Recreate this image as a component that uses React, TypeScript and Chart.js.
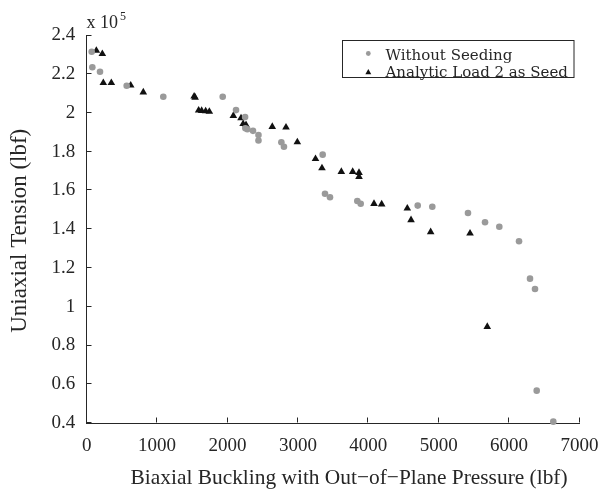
import React, { useEffect, useRef } from "react";
import { Chart, registerables } from "chart.js";

Chart.register(...registerables);

const xTicks = [0, 1000, 2000, 3000, 4000, 5000, 6000, 7000];
const yTicks = [0.4, 0.6, 0.8, 1.0, 1.2, 1.4, 1.6, 1.8, 2.0, 2.2, 2.4];
const seriesNames = ["Without Seeding", "Analytic Load 2 as Seed"];
const xTitle = "Biaxial Buckling with Out\u2212of\u2212Plane Pressure (lbf)";
const yTitle = "Uniaxial Tension (lbf)";

// Without Seeding (y in units of 1e5 lbf)
const noSeedX = [71, 80, 189, 568, 1088, 1932, 2121, 2250, 2254, 2282, 2362, 2440, 2440, 2765, 2802, 3352, 3385, 3456, 3844, 3892, 4702, 4909, 5416, 5658, 5861, 6141, 6297, 6368, 6392, 6628];
const noSeedY = [2.316, 2.236, 2.213, 2.141, 2.084, 2.084, 2.015, 1.979, 1.921, 1.916, 1.908, 1.886, 1.858, 1.849, 1.826, 1.785, 1.583, 1.565, 1.546, 1.532, 1.522, 1.516, 1.484, 1.436, 1.413, 1.338, 1.145, 1.092, 0.567, 0.407];

// Analytic Load 2 as Seed
const seedX = [137, 222, 236, 350, 625, 804, 1526, 1540, 1590, 1633, 1690, 1742, 2083, 2192, 2222, 2263, 2636, 2831, 2992, 3250, 3342, 3617, 3778, 3868, 3868, 4081, 4190, 4554, 4607, 4886, 5445, 5690];
const seedY = [2.322, 2.305, 2.156, 2.156, 2.143, 2.107, 2.086, 2.080, 2.014, 2.012, 2.010, 2.007, 1.986, 1.974, 1.944, 1.938, 1.929, 1.926, 1.850, 1.763, 1.716, 1.697, 1.697, 1.692, 1.671, 1.532, 1.529, 1.508, 1.448, 1.386, 1.379, 0.897];

const SERIF = "'Liberation Serif', 'Times New Roman', serif";
const LEGEND_FONT = "'DejaVu Serif', serif";
const INK = "#262626";
const GRAY = "#9a9a9a";
const BLACK = "#111111";

// plot frame in canvas pixels
const AREA = { left: 86.7, right: 579.5, top: 35.5, bottom: 423 };

export default function App() {
  const ref = useRef<HTMLCanvasElement>(null);

  useEffect(() => {
    document.body.style.margin = "0";
    const canvas = ref.current;
    if (!canvas) return;

    const frame = {
      id: "frame",
      afterLayout(chart: any) {
        const ca = chart.chartArea;
        ca.left = AREA.left;
        ca.right = AREA.right;
        ca.top = AREA.top;
        ca.bottom = AREA.bottom;
        ca.width = AREA.right - AREA.left;
        ca.height = AREA.bottom - AREA.top;
        const xs = chart.scales.x;
        xs.left = AREA.left;
        xs.right = AREA.right;
        xs.width = AREA.right - AREA.left;
        xs.top = AREA.bottom;
        xs.bottom = chart.height;
        xs.height = chart.height - AREA.bottom;
        const ys = chart.scales.y;
        ys.left = 0;
        ys.right = AREA.left;
        ys.width = AREA.left;
        ys.top = AREA.top;
        ys.bottom = AREA.bottom;
        ys.height = AREA.bottom - AREA.top;
        xs.configure();
        ys.configure();
        // the reference places its axis titles slightly off-centre
        const shiftTitle = (scale: any, dx: number, dy: number) => {
          if (scale.__shifted) return;
          const orig = scale.drawTitle;
          scale.drawTitle = function (...args: any[]) {
            const c = this.ctx;
            c.save();
            c.translate(dx, dy);
            orig.apply(this, args);
            c.restore();
          };
          scale.__shifted = true;
        };
        shiftTitle(xs, 16, 0);
        shiftTitle(ys, 0, 1.5);
      },
    };

    const decor = {
      id: "decor",
      afterDraw(chart: any) {
        const ctx = chart.ctx as CanvasRenderingContext2D;
        const xs = chart.scales.x;
        const ys = chart.scales.y;
        const area = chart.chartArea;
        ctx.save();
        // inward ticks
        ctx.strokeStyle = INK;
        ctx.lineWidth = 1;
        ctx.beginPath();
        const bottom = Math.round(area.bottom) - 0.5;
        const left = Math.round(area.left) - 0.5;
        xTicks.forEach((v) => {
          const px = Math.round(xs.getPixelForValue(v)) - 0.5;
          ctx.moveTo(px, bottom);
          ctx.lineTo(px, bottom - 5);
        });
        yTicks.forEach((v) => {
          const py = Math.round(ys.getPixelForValue(v)) - 0.5;
          ctx.moveTo(left, py);
          ctx.lineTo(left + 5, py);
        });
        ctx.stroke();

        // exponent label
        ctx.fillStyle = INK;
        ctx.textBaseline = "alphabetic";
        ctx.textAlign = "left";
        ctx.font = `18px ${SERIF}`;
        ctx.fillText("x 10", 86.5, 28.3);
        const w = ctx.measureText("x 10").width;
        ctx.font = `12px ${SERIF}`;
        ctx.fillText("5", 86.5 + w + 2, 20);

        // legend
        const lx = 342.5, ly = 40.5, lw = 231.5, lh = 37;
        ctx.fillStyle = "#ffffff";
        ctx.fillRect(lx, ly, lw, lh);
        ctx.strokeStyle = INK;
        ctx.strokeRect(lx, ly, lw, lh);
        // circle marker
        ctx.fillStyle = GRAY;
        ctx.beginPath();
        ctx.arc(368.3, 53.5, 2.4, 0, Math.PI * 2);
        ctx.fill();
        // triangle marker
        ctx.fillStyle = BLACK;
        ctx.beginPath();
        const tx = 368.3, ty = 72.5, r = 3.4;
        ctx.moveTo(tx, ty - r);
        ctx.lineTo(tx + r * 0.866, ty + r * 0.5);
        ctx.lineTo(tx - r * 0.866, ty + r * 0.5);
        ctx.closePath();
        ctx.fill();
        ctx.fillStyle = INK;
        ctx.font = `15px ${LEGEND_FONT}`;
        ctx.fillText(seriesNames[0], 385.5, 59.5);
        ctx.fillText(seriesNames[1], 385.5, 76.5);
        ctx.restore();
      },
    };

    const chart = new Chart(canvas, {
      type: "scatter",
      data: {
        datasets: [
          {
            label: seriesNames[0],
            data: noSeedX.map((x, i) => ({ x, y: noSeedY[i] })),
            pointStyle: "circle",
            pointRadius: 3.3,
            pointHoverRadius: 3.3,
            backgroundColor: GRAY,
            borderColor: GRAY,
            borderWidth: 0,
            clip: false,
          },
          {
            label: seriesNames[1],
            data: seedX.map((x, i) => ({ x, y: seedY[i] })),
            pointStyle: "triangle",
            pointRadius: 4.4,
            pointHoverRadius: 4.4,
            backgroundColor: BLACK,
            borderColor: BLACK,
            borderWidth: 0,
            clip: false,
          },
        ],
      } as any,
      options: {
        responsive: false,
        animation: false,
        devicePixelRatio: 1,
        layout: { padding: 0 },
        plugins: { legend: { display: false }, tooltip: { enabled: false } },
        scales: {
          x: {
            type: "linear",
            min: 0,
            max: 7000,
            afterBuildTicks: (s: any) => {
              s.ticks = xTicks.map((v) => ({ value: v }));
            },
            grid: { display: false, drawTicks: false },
            border: { display: true, color: INK, width: 1 },
            ticks: {
              padding: 12,
              autoSkip: false,
              maxRotation: 0,
              color: INK,
              font: { family: SERIF, size: 19 },
              callback: (v: any) => String(v),
            },
            title: {
              display: true,
              text: xTitle,
              color: INK,
              font: { family: SERIF, size: 21.4 },
              padding: { top: 0, bottom: 1.3 },
            },
          },
          y: {
            type: "linear",
            min: 0.4,
            max: 2.4,
            afterBuildTicks: (s: any) => {
              s.ticks = yTicks.map((v) => ({ value: v }));
            },
            grid: { display: false, drawTicks: false },
            border: { display: true, color: INK, width: 1 },
            ticks: {
              padding: 11.5,
              autoSkip: false,
              color: INK,
              font: { family: SERIF, size: 19 },
              callback: (v: any) => String(Number(Number(v).toFixed(1))),
            },
            title: {
              display: true,
              text: yTitle,
              color: INK,
              font: { family: SERIF, size: 23 },
              padding: { top: 6.4, bottom: 0 },
            },
          },
        },
      } as any,
      plugins: [frame, decor],
    });

    return () => chart.destroy();
  }, []);

  return <canvas ref={ref} width={601} height={493} style={{ display: "block" }} />;
}
